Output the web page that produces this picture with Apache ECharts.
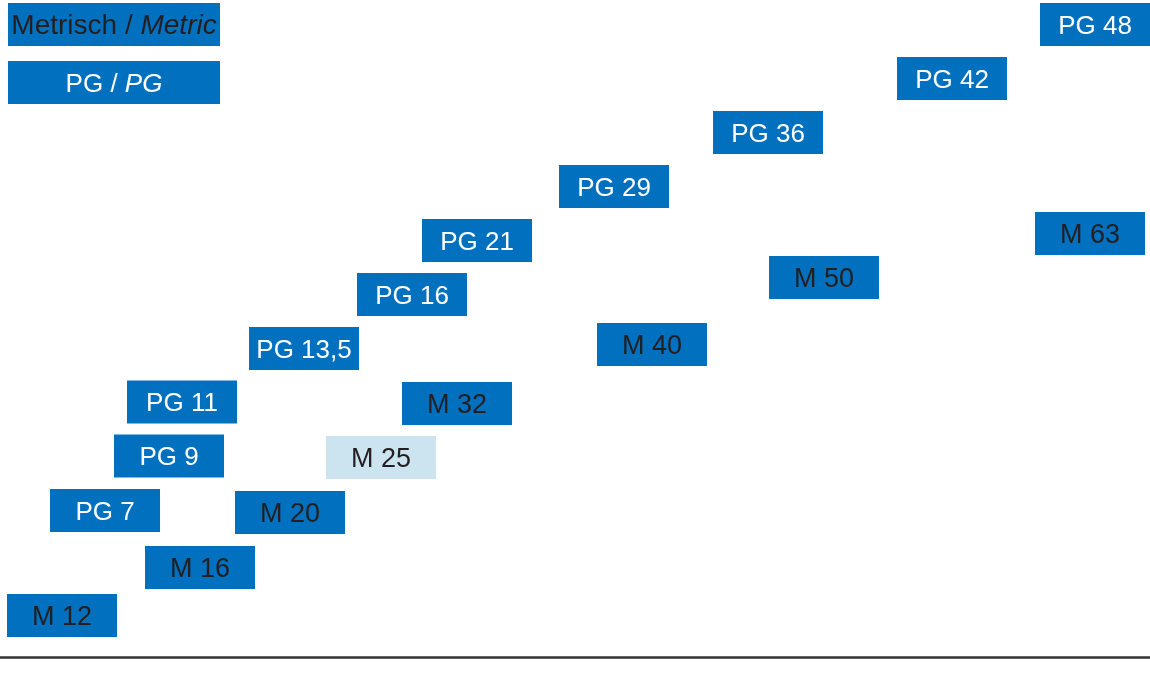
<!DOCTYPE html>
<html>
<head>
<meta charset="utf-8">
<script src="https://cdn.jsdelivr.net/npm/echarts@6/dist/echarts.min.js"></script>
<style>
  html, body { margin: 0; padding: 0; background: #fff; }
  #chart { width: 1150px; height: 674px; }
</style>
</head>
<body>
<div id="chart"></div>
<script>
// PG thread sizes: box centre positions (x in 10 px units, y = height above base line)
const pgLabels = ['PG 7', 'PG 9', 'PG 11', 'PG 13,5', 'PG 16', 'PG 21', 'PG 29', 'PG 36', 'PG 42', 'PG 48'];
const pgX = [10.5, 16.9, 18.2, 30.4, 41.2, 47.7, 61.4, 76.8, 95.2, 109.5];
const pgY = [14.65, 20.1, 25.5, 30.85, 36.25, 41.65, 47.05, 52.45, 57.85, 63.25];

// metric thread sizes
const mLabels = ['M 12', 'M 16', 'M 20', 'M 25', 'M 32', 'M 40', 'M 50', 'M 63'];
const mX = [6.2, 20.0, 29.0, 38.1, 45.7, 65.2, 82.4, 109.0];
const mY = [4.15, 8.95, 14.45, 19.95, 25.35, 31.25, 37.95, 42.35];
const highlighted = ['M 25'];

// key boxes
const keyX = [11.4, 11.4];
const keyY = [63.25, 57.45];

const blue = '#0070bf';
const light = '#cce3f0';
const dark = '#231f20';
const font = 'Arial';

const chart = echarts.init(document.getElementById('chart'));

chart.setOption({
  animation: false,
  grid: { left: 0, right: 0, top: 0, bottom: 17 },
  xAxis: {
    type: 'value', min: 0, max: 115,
    axisLine: { show: true, lineStyle: { color: '#333', width: 2.5 } },
    axisTick: { show: false }, axisLabel: { show: false }, splitLine: { show: false }
  },
  yAxis: {
    type: 'value', min: 0, max: 65.7,
    axisLine: { show: false }, axisTick: { show: false },
    axisLabel: { show: false }, splitLine: { show: false }
  },
  series: [
    {
      type: 'scatter',
      symbol: 'rect',
      symbolSize: [110, 43],
      itemStyle: { color: blue, opacity: 1 },
      label: {
        show: true, position: 'inside', color: '#fff',
        fontFamily: font, fontSize: 26, offset: [0, 2],
        formatter: p => p.value[2]
      },
      data: pgLabels.map((l, i) => [pgX[i], pgY[i], l])
    },
    {
      type: 'scatter',
      symbol: 'rect',
      symbolSize: [110, 43],
      label: {
        show: true, position: 'inside', color: dark,
        fontFamily: font, fontSize: 27, offset: [0, 2],
        formatter: p => p.value[2]
      },
      data: mLabels.map((l, i) => ({
        value: [mX[i], mY[i], l],
        itemStyle: { color: highlighted.includes(l) ? light : blue, opacity: 1 }
      }))
    },
    {
      type: 'scatter',
      symbol: 'rect',
      symbolSize: [212, 43],
      itemStyle: { color: blue, opacity: 1 },
      label: {
        show: true, position: 'inside', offset: [0, 2],
        fontFamily: font, fontSize: 27,
        formatter: p => p.dataIndex === 0 ? '{d|Metrisch / }{di|Metric}' : '{w|PG / }{wi|PG}',
        rich: {
          d: { color: dark, fontFamily: font, fontSize: 28 },
          di: { color: dark, fontFamily: font, fontSize: 28, fontStyle: 'italic' },
          w: { color: '#fff', fontFamily: font, fontSize: 26 },
          wi: { color: '#fff', fontFamily: font, fontSize: 26, fontStyle: 'italic' }
        }
      },
      data: keyX.map((x, i) => [x, keyY[i]])
    }
  ]
});
</script>
</body>
</html>
